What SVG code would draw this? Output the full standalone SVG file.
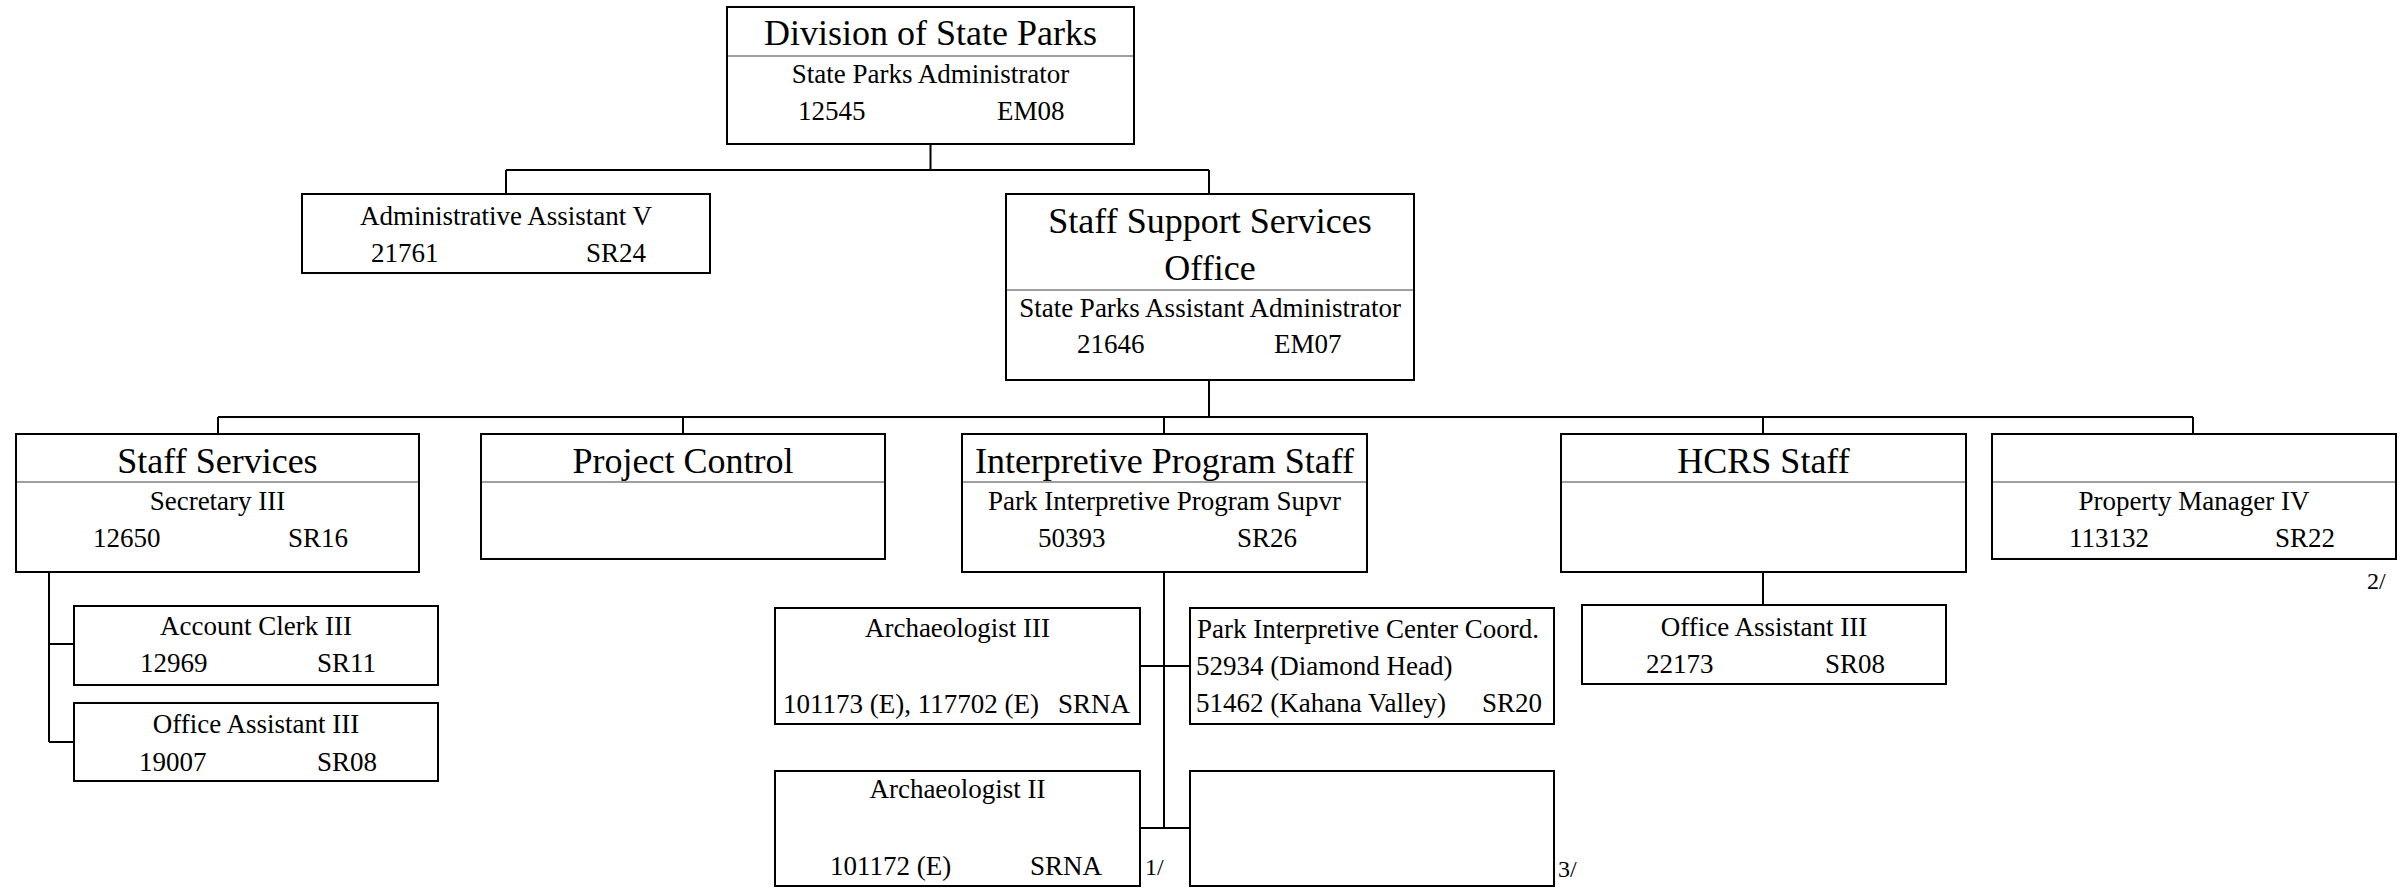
<svg xmlns="http://www.w3.org/2000/svg" width="2406" height="890" viewBox="0 0 2406 890">
<style>
.box{fill:#fff;stroke:#000;stroke-width:2}
.div{stroke:#808080;stroke-width:1.6}
.conn{fill:none;stroke:#000;stroke-width:2}
text{font-family:"Liberation Serif","Times New Roman",serif;fill:#000}
.t{font-size:36px;text-anchor:middle}
.s{font-size:27px;text-anchor:middle}
.n{font-size:27px}
.f{font-size:24px}
</style>
<rect width="2406" height="890" fill="#fff"/>
<g id="connectors">
<path class="conn" d="M930.5,144 V170 M506,170 H1209 M506,170 V194 M1209,170 V194"/>
<path class="conn" d="M1209,380 V417 M218,417 H2193 M218,417 V434 M683,417 V434 M1164,417 V434 M1763,417 V434 M2193,417 V434"/>
<path class="conn" d="M49,572 V742 M49,644 H74 M49,742 H74"/>
<path class="conn" d="M1164,572 V828 M1140,666 H1190 M1140,828 H1190"/>
<path class="conn" d="M1763,572 V605"/>
</g>
<g id="n-division">
<rect class="box" x="727" y="7" width="407" height="137"/>
<line class="div" x1="728" y1="56" x2="1133" y2="56"/>
<text class="t" x="930.5" y="45">Division of State Parks</text>
<text class="s" x="930.5" y="83">State Parks Administrator</text>
<text class="n" x="798" y="120">12545</text>
<text class="n" x="997" y="120">EM08</text>
</g>
<g id="n-admin-asst">
<rect class="box" x="302" y="194" width="408" height="79"/>
<text class="s" x="506" y="225">Administrative Assistant V</text>
<text class="n" x="371" y="262">21761</text>
<text class="n" x="586" y="262">SR24</text>
</g>
<g id="n-ssso">
<rect class="box" x="1006" y="194" width="408" height="186"/>
<line class="div" x1="1007" y1="290" x2="1413" y2="290"/>
<text class="t" x="1210" y="233">Staff Support Services</text>
<text class="t" x="1210" y="280">Office</text>
<text class="s" x="1210" y="317">State Parks Assistant Administrator</text>
<text class="n" x="1077" y="353">21646</text>
<text class="n" x="1274" y="353">EM07</text>
</g>
<g id="n-staff-services">
<rect class="box" x="16" y="434" width="403" height="138"/>
<line class="div" x1="17" y1="482" x2="418" y2="482"/>
<text class="t" x="217.5" y="473">Staff Services</text>
<text class="s" x="217.5" y="510">Secretary III</text>
<text class="n" x="93" y="547">12650</text>
<text class="n" x="288" y="547">SR16</text>
</g>
<g id="n-project-control">
<rect class="box" x="481" y="434" width="404" height="125"/>
<line class="div" x1="482" y1="482" x2="884" y2="482"/>
<text class="t" x="683" y="473">Project Control</text>
</g>
<g id="n-ips">
<rect class="box" x="962" y="434" width="405" height="138"/>
<line class="div" x1="963" y1="482" x2="1366" y2="482"/>
<text class="t" x="1164.5" y="473">Interpretive Program Staff</text>
<text class="s" x="1164.5" y="510">Park Interpretive Program Supvr</text>
<text class="n" x="1038" y="547">50393</text>
<text class="n" x="1237" y="547">SR26</text>
</g>
<g id="n-hcrs">
<rect class="box" x="1561" y="434" width="405" height="138"/>
<line class="div" x1="1562" y1="482" x2="1965" y2="482"/>
<text class="t" x="1763.5" y="473">HCRS Staff</text>
</g>
<g id="n-property">
<rect class="box" x="1992" y="434" width="404" height="125"/>
<line class="div" x1="1993" y1="482" x2="2395" y2="482"/>
<text class="s" x="2194" y="510">Property Manager IV</text>
<text class="n" x="2069" y="547">113132</text>
<text class="n" x="2275" y="547">SR22</text>
<text class="f" x="2367" y="589">2/</text>
</g>
<g id="n-account-clerk">
<rect class="box" x="74" y="606" width="364" height="79"/>
<text class="s" x="256" y="635">Account Clerk III</text>
<text class="n" x="140" y="672">12969</text>
<text class="n" x="317" y="672">SR11</text>
</g>
<g id="n-office-asst-ss">
<rect class="box" x="74" y="703" width="364" height="78"/>
<text class="s" x="256" y="733">Office Assistant III</text>
<text class="n" x="139" y="771">19007</text>
<text class="n" x="317" y="771">SR08</text>
</g>
<g id="n-office-asst-hcrs">
<rect class="box" x="1582" y="605" width="364" height="79"/>
<text class="s" x="1764" y="636">Office Assistant III</text>
<text class="n" x="1646" y="673">22173</text>
<text class="n" x="1825" y="673">SR08</text>
</g>
<g id="n-arch3">
<rect class="box" x="775" y="608" width="365" height="116"/>
<text class="s" x="957.5" y="637">Archaeologist III</text>
<text class="n" x="783" y="713">101173 (E), 117702 (E)</text>
<text class="n" x="1058" y="713">SRNA</text>
</g>
<g id="n-picc">
<rect class="box" x="1190" y="608" width="364" height="116"/>
<text class="n" x="1197" y="638">Park Interpretive Center Coord.</text>
<text class="n" x="1196" y="675">52934 (Diamond Head)</text>
<text class="n" x="1196" y="712">51462 (Kahana Valley)</text>
<text class="n" x="1482" y="712">SR20</text>
</g>
<g id="n-arch2">
<rect class="box" x="775" y="771" width="365" height="115"/>
<text class="s" x="957.5" y="798">Archaeologist II</text>
<text class="n" x="830" y="875">101172 (E)</text>
<text class="n" x="1030" y="875">SRNA</text>
<text class="f" x="1145" y="875">1/</text>
</g>
<g id="n-empty">
<rect class="box" x="1190" y="771" width="364" height="115"/>
<text class="f" x="1558" y="877">3/</text>
</g>
</svg>
